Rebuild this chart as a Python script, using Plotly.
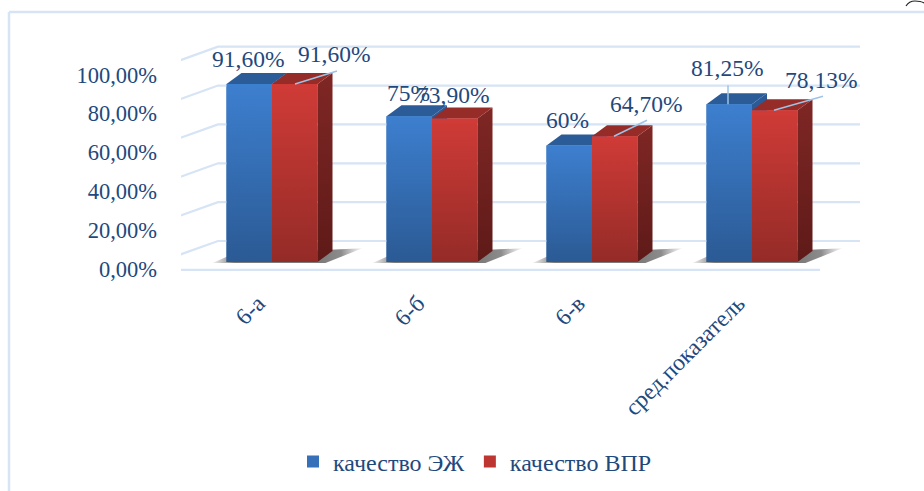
import plotly.graph_objects as go

categories = ["6-а", "6-б", "6-в", "сред.показатель"]
series_ej = [91.60, 75.00, 60.00, 81.25]
series_vpr = [91.60, 73.90, 64.70, 78.13]
labels_ej = ["91,60%", "75%", "60%", "81,25%"]
labels_vpr = ["91,60%", "73,90%", "64,70%", "78,13%"]
ytick_values = [0, 20, 40, 60, 80, 100]
ytick_labels = ["0,00%", "20,00%", "40,00%", "60,00%", "80,00%", "100,00%"]

FONT = "Liberation Serif"
TXT = "#1F497D"
GRID = "#D6E4F5"
PX_X = 160.0
PX_Y = 1.943
L, R, T, B = 181, 870, 30, 278
X0_PX, Y0_PX = 272, 262
xmin = -(X0_PX - L) / PX_X
xmax = xmin + (R - L) / PX_X
ymin = -(B - Y0_PX) / PX_Y
ymax = (Y0_PX - T) / PX_Y
BW = 45.5 / PX_X
DX = 15 / PX_X
DY = 11 / PX_Y


def poly(xs, ys, color=None, grad=None, horizontal=False):
    kw = dict(x=xs, y=ys, mode="lines", line=dict(width=0), fill="toself",
              hoverinfo="skip", showlegend=False)
    if grad:
        stops = [[k / (len(grad) - 1), c] for k, c in enumerate(grad)]
        kw["fillcolor"] = grad[0]
        kw["fillgradient"] = dict(type="horizontal" if horizontal else "vertical", colorscale=stops)
    else:
        kw["fillcolor"] = color
    return go.Scatter(**kw)


fig = go.Figure()
# native bars (carry the data and the legend)
fig.add_bar(x=list(range(4)), y=series_ej, name="качество ЭЖ", marker=dict(color="#3570B8", line_width=0))
fig.add_bar(x=list(range(4)), y=series_vpr, name="качество ВПР", marker=dict(color="#BE3632", line_width=0))

# wall, side wall and floor grid
back_dy = -21 / PX_Y
front_dy = 7 / PX_Y
left_front = xmin - 2 / PX_X
left_back = xmin + 37 / PX_X
for v in ytick_values:
    fig.add_trace(go.Scatter(x=[left_front, left_back, xmax - 10 / PX_X],
                             y=[v + front_dy, v - back_dy, v - back_dy], mode="lines",
                             line=dict(color=GRID, width=2.2), hoverinfo="skip", showlegend=False))
fig.add_trace(go.Scatter(x=[left_front, xmin + 639 / PX_X], y=[-front_dy - 0.4, -front_dy - 0.4], mode="lines",
                         line=dict(color=GRID, width=2.2), hoverinfo="skip", showlegend=False))

for i, (a, b) in enumerate(zip(series_ej, series_vpr)):
    left, mid, right = i - BW, i, i + BW
    # floor shadows
    fig.add_trace(poly([left - 14 / PX_X, left + 6 / PX_X, right + DX + 30 / PX_X, right + 8 / PX_X],
                       [-0.5, DY * 0.7, DY * 1.25, -0.5],
                       grad=["rgba(120,120,120,0.1)", "rgba(90,90,90,0.8)", "rgba(90,90,90,0.8)",
                             "rgba(90,90,90,0.8)", "rgba(90,90,90,0.8)", "rgba(90,90,90,0.8)",
                             "rgba(90,90,90,0.7)", "rgba(120,120,120,0.05)"],
                       horizontal=True))
    # blue block
    fig.add_trace(poly([mid, mid + DX, mid + DX, mid], [0, DY, a + DY, a], color="#2A5B98"))
    fig.add_trace(poly([left, left + DX, mid + DX, mid], [a, a + DY, a + DY, a], color="#2B5C98"))
    # red block
    fig.add_trace(poly([right, right + DX, right + DX, right], [0, DY, b + DY, b],
                       grad=["#5E1A18", "#7F2725"]))
    fig.add_trace(poly([mid, mid + DX, right + DX, right], [b, b + DY, b + DY, b], color="#962C28"))
    # gradient faces
    fig.add_trace(poly([left, mid, mid, left], [0, 0, a, a], grad=["#2B5A94", "#3D7FCF"]))
    fig.add_trace(poly([mid, right, right, mid], [0, 0, b, b], grad=["#942B27", "#D03B37"]))

# leader lines: series index, category, offset along the bar (px), and rise to the label (px)
leaders = [
    (1, 0, 23, 42, 13), (1, 2, 22, 33, 16), (1, 3, 22, 49, 14), (0, 3, -24, 0, 19),
]
for s, i, off, dx, dy in leaders:
    v = (series_ej if s == 0 else series_vpr)[i]
    x0 = i + off / PX_X
    fig.add_trace(go.Scatter(x=[x0, x0 + dx / PX_X], y=[v, v + dy / PX_Y], mode="lines",
                             line=dict(color="#9DC3E6", width=1.5), hoverinfo="skip", showlegend=False))

# data labels: text centre offset from value point (px)
off_ej = [(-24, 25), (-24, 23), (-25, 25), (-25, 36)]
off_vpr = [(62, 30), (21, 23), (54, 32), (69, 30)]
for i in range(4):
    for txt, v, (ox, oy) in ((labels_ej[i], series_ej[i], off_ej[i]),
                             (labels_vpr[i], series_vpr[i], off_vpr[i])):
        fig.add_annotation(x=i, y=v, text=txt, showarrow=False, xshift=ox, yshift=oy,
                           font=dict(family=FONT, size=23.5, color=TXT))

# outer chart frame
W, H = 924, 491
to_px = lambda p: (p - L) / (R - L)
to_py = lambda p: 1 - (p - T) / (B - T)
frame = dict(xref="paper", yref="paper", line=dict(color=GRID, width=2.5), layer="below")
fig.add_shape(type="line", x0=to_px(9), x1=to_px(924), y0=to_py(12), y1=to_py(12), **frame)
fig.add_shape(type="line", x0=to_px(9), x1=to_px(9), y0=to_py(12), y1=to_py(491), **frame)
# clipped glyph fragment in the top right corner of the page
fig.add_shape(type="path", xref="paper", yref="paper",
              path=f"M {to_px(906)} {to_py(6)} Q {to_px(909)} {to_py(1)} {to_px(915)} {to_py(1)} "
                   f"Q {to_px(921)} {to_py(1)} {to_px(924)} {to_py(3)}",
              line=dict(color="#222222", width=1.2))

fig.update_layout(
    width=W, height=H, autosize=False,
    margin=dict(l=L, r=W - R, t=T, b=H - B, pad=0, autoexpand=False),
    paper_bgcolor="white", plot_bgcolor="rgba(0,0,0,0)",
    barmode="group", bargap=1 - 2 * BW, bargroupgap=0,
    font=dict(family=FONT, color=TXT),
    xaxis=dict(range=[xmin, xmax], tickmode="array", tickvals=list(range(4)), ticktext=categories,
               tickangle=-45, showgrid=False, zeroline=False, showline=False, ticks="", automargin=False,
               tickfont=dict(family=FONT, size=23.5, color=TXT), ticklabelshift=-14, ticklabelstandoff=6),
    yaxis=dict(range=[ymin, ymax], tickmode="array", tickvals=ytick_values, ticktext=ytick_labels,
               showgrid=False, zeroline=False, showline=False, ticks="", automargin=False,
               tickfont=dict(family=FONT, size=22.5, color=TXT), ticklabelshift=7, ticklabelstandoff=23),
    legend=dict(orientation="h", x=to_px(293), y=to_py(462), xanchor="left", yanchor="middle",
                font=dict(family=FONT, size=24, color=TXT), bgcolor="rgba(0,0,0,0)",
                itemclick=False, itemdoubleclick=False),
    showlegend=True,
)
fig.write_html("out.html", config={"displayModeBar": False},
               post_script="document.body.style.margin='0';document.body.style.overflow='hidden';")
